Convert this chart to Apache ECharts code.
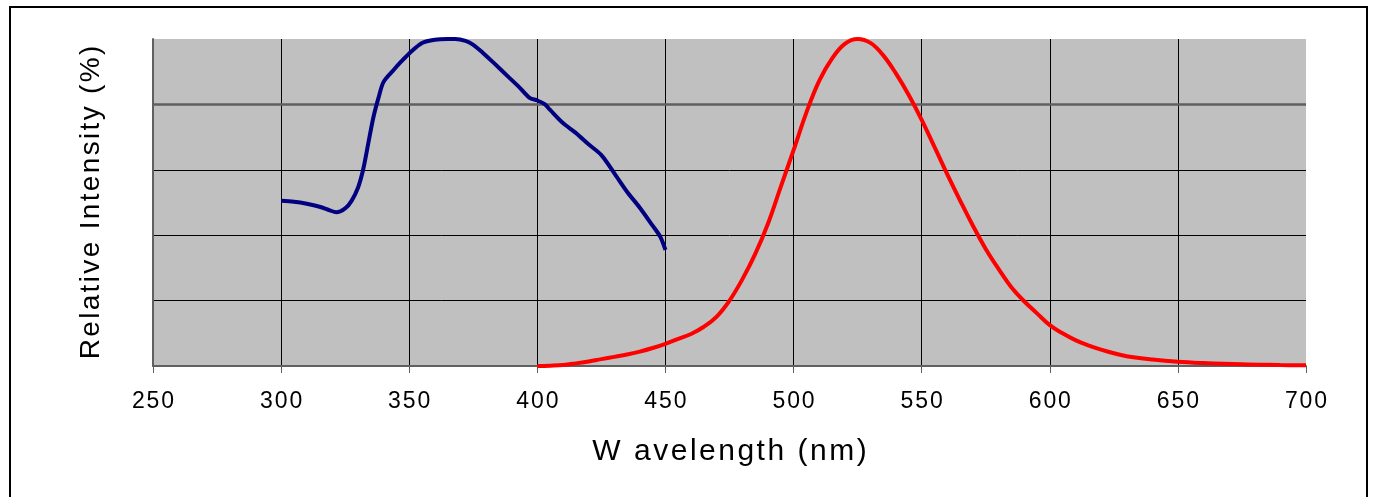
<!DOCTYPE html>
<html>
<head>
<meta charset="utf-8">
<script src="https://cdn.jsdelivr.net/npm/echarts@6/dist/echarts.min.js"></script>
<style>
html,body{margin:0;padding:0;background:#fff;}
#chart{width:1374px;height:497px;}
</style>
</head>
<body>
<div id="chart"></div>
<script>
// Excitation (blue) spectrum: wavelength (nm), relative intensity (%)
const blueWavelength = [300,305,310,315,319,321.5,325,327.5,330,332,334,336,338,340,344,347,350,355,360,365,368,372,375,379,383,389,393,397,400,403,405,410,415,420,425,430,435,440,445,448,450];
const blueIntensity  = [50.5,50.2,49.6,48.7,47.6,47.0,48.2,50.5,54.5,60,68,76,82,86.9,90.6,93.2,95.6,98.8,99.8,100,100,99.4,98.2,95.6,92.7,88.2,85.2,82,81.2,80,78.3,74.3,71.3,67.8,64.5,59,53.3,48.4,42.9,39.5,35.5];
// Emission (red) spectrum
const redWavelength = [400,405,410,415,420,425,430,435,440,445,450,455,460,465,470,475,480,485,490,495,500,505,510,515,520,525,530,535,540,545,550,555,560,565,570,575,580,585,590,595,600,605,610,615,620,625,630,640,650,660,675,690,700];
const redIntensity  = [0,0.1,0.3,0.8,1.4,2.1,2.8,3.5,4.4,5.5,6.8,8.3,9.8,12,15.1,20,26.5,34.2,43.5,54.8,66,77.5,87.2,94,98.5,100,98.8,95,89.4,82.8,75.3,67,58.6,50.6,42.9,35.8,29.7,24.1,19.8,16.1,12.5,10,7.9,6.3,5.0,3.9,3.0,2.0,1.3,0.9,0.5,0.3,0.2];
// Axis settings
const xTicks = {min:250, max:700, interval:50};
const yTicks = {min:0, max:100, interval:20};
const xTitle = 'W avelength (nm)';
const yTitle = 'Relative Intensity (%)';

const HS = '\u200A';
const spaced = s => String(s).split('').join(HS);

const zip = (a,b) => a.map((v,i)=>[v,b[i]]);

const chart = echarts.init(document.getElementById('chart'), null, {renderer:'canvas'});
const font = '"Liberation Sans", Arial, sans-serif';
chart.setOption({
  animation:false,
  backgroundColor:'#ffffff',
  graphic:[{
    type:'rect', silent:true, z:-10,
    shape:{x:10, y:7, width:1357, height:520},
    style:{fill:'none', stroke:'#000', lineWidth:2}
  }],
  grid:{left:153, right:68, top:39, bottom:131, show:true, backgroundColor:'#c0c0c0', borderWidth:0},
  xAxis:{
    type:'value', min:xTicks.min, max:xTicks.max, interval:xTicks.interval,
    name:spaced(xTitle), nameLocation:'middle', nameGap:71,
    nameTextStyle:{fontFamily:font, fontSize:30, color:'#000'},
    axisLine:{show:true, onZero:false, lineStyle:{color:'#606060', width:2}},
    axisTick:{show:true, length:7, lineStyle:{color:'#606060', width:1}},
    axisLabel:{fontFamily:font, fontSize:23, color:'#000', margin:24, formatter:v=>spaced(v)},
    splitLine:{show:true, showMinLine:false, showMaxLine:false, lineStyle:{color:'#000', width:1}}
  },
  yAxis:{
    type:'value', min:yTicks.min, max:yTicks.max, interval:yTicks.interval,
    name:spaced(yTitle), nameLocation:'middle', nameGap:48,
    nameTextStyle:{fontFamily:font, fontSize:28, color:'#000'},
    axisLine:{show:true, lineStyle:{color:'#606060', width:2}},
    axisTick:{show:false},
    axisLabel:{show:false},
    splitLine:{show:true, showMinLine:false, showMaxLine:false, lineStyle:{color:'#000', width:1}}
  },
  series:[
    {
      type:'line', data:[], z:1, silent:true,
      markLine:{silent:true, symbol:'none', label:{show:false},
        lineStyle:{color:'#5f5f5f', width:2.5, type:'solid'},
        data:[{yAxis:80}]}
    },
    {
      name:'Excitation', type:'line', z:5, data:zip(blueWavelength, blueIntensity),
      smooth:0.3, showSymbol:false, clip:false,
      lineStyle:{color:'#000080', width:4}
    },
    {
      name:'Emission', type:'line', z:5, data:zip(redWavelength, redIntensity),
      smooth:0.4, showSymbol:false, clip:false,
      lineStyle:{color:'#ff0000', width:4}
    }
  ]
});
</script>
</body>
</html>
